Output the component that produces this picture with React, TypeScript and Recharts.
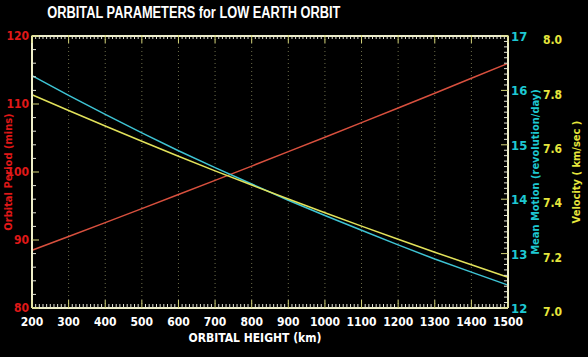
import React from "react";
import { Label, Line, LineChart, ReferenceLine, XAxis, YAxis } from "recharts";

// orbital height (km)
const heights = [200, 300, 400, 500, 600, 700, 800, 900, 1000, 1100, 1200, 1300, 1400, 1500];
// orbital period (mins)
const periods = [88.49, 90.52, 92.56, 94.61, 96.69, 98.77, 100.87, 102.99, 105.12, 107.26, 109.42, 111.59, 113.78, 115.98];
// mean motion (revolution/day)
const meanMotion = [16.27, 15.91, 15.56, 15.22, 14.89, 14.58, 14.28, 13.98, 13.7, 13.43, 13.16, 12.9, 12.66, 12.42];
// velocity (km/sec)
const velocity = [7.784, 7.726, 7.669, 7.613, 7.558, 7.504, 7.452, 7.401, 7.35, 7.301, 7.253, 7.205, 7.159, 7.113];

const gridHeights = [300, 400, 500, 600, 700, 800, 900, 1000, 1100, 1200, 1300, 1400];
const velocityTicks = [7.0, 7.2, 7.4, 7.6, 7.8, 8.0];

// minor tick positions for the frame
const xTicks = Array.from({ length: 131 }, (_, i) => 200 + i * 10);
const periodTicks = Array.from({ length: 21 }, (_, i) => 80 + i * 2);
const motionTicks = Array.from({ length: 51 }, (_, i) => (120 + i) / 10);

const data = heights.map((h, i) => ({
  height: h,
  period: periods[i],
  motion: meanMotion[i],
  velocity: velocity[i],
}));

const FONT = "'Liberation Sans Narrow', 'DejaVu Sans Condensed', 'Liberation Sans', sans-serif";
const FRAME = "#efefc8";
const MAJOR = "#d6d67a";
const MINOR = "#e4e4d4";
const RED = "#e01818";
const CYAN = "#1ec8d2";
const YELLOW = "#e6e63c";

document.body.style.margin = "0";
document.body.style.background = "#000";

const BottomTick = (props: any) => {
  const { x, y, payload } = props;
  const major = payload.value % 100 === 0;
  return (
    <g>
      <line x1={x} x2={x} y1={y} y2={y - (major ? 8 : 4)} stroke={major ? MAJOR : MINOR} strokeWidth={1} />
      {major && (
        <text x={x} y={y + 18} textAnchor="middle" fill="#fff" fontSize={12} fontWeight="bold" fontFamily={FONT}>
          {payload.value}
        </text>
      )}
    </g>
  );
};

const TopTick = (props: any) => {
  const { x, payload } = props;
  const major = payload.value % 100 === 0;
  return <line x1={x} x2={x} y1={35} y2={35 + (major ? 8 : 4)} stroke={major ? MAJOR : MINOR} strokeWidth={1} />;
};

const LeftTick = (props: any) => {
  const { x, y, payload } = props;
  const major = payload.value % 10 === 0;
  return (
    <g>
      <line x1={x} x2={x + (major ? 7 : 4)} y1={y} y2={y} stroke={major ? MAJOR : MINOR} strokeWidth={1} />
      {major && (
        <text x={x - 3} y={y + 4} textAnchor="end" fill={RED} fontSize={12} fontWeight="bold" fontFamily={FONT}>
          {payload.value}
        </text>
      )}
    </g>
  );
};

const RightTick = (props: any) => {
  const { x, y, payload } = props;
  const major = Math.abs(payload.value - Math.round(payload.value)) < 0.001;
  return (
    <g>
      <line x1={x} x2={x - (major ? 7 : 4)} y1={y} y2={y} stroke={major ? MAJOR : MINOR} strokeWidth={1} />
      {major && (
        <text x={x + 3} y={y + 5} textAnchor="start" fill={CYAN} fontSize={13} fontWeight="bold" fontFamily={FONT}>
          {Math.round(payload.value)}
        </text>
      )}
    </g>
  );
};

export default function App() {
  return (
    <div style={{ position: "relative", width: 588, height: 357, background: "#000" }}>
      <div
        style={{
          position: "absolute",
          left: 0,
          top: 4,
          width: 388,
          textAlign: "center",
          color: "#fff",
          fontFamily: "'Liberation Sans', Arial, sans-serif",
          fontWeight: "bold",
          fontSize: 16,
          lineHeight: "18px",
          transform: "scaleX(0.8)",
          transformOrigin: "193px 0",
          whiteSpace: "nowrap",
        }}
      >
        ORBITAL PARAMETERS for LOW EARTH ORBIT
      </div>
      <LineChart width={588} height={357} data={data} margin={{ top: 35, right: 0, bottom: 0, left: 0 }}>
        {gridHeights.map((h) => (
          <ReferenceLine key={h} x={h} yAxisId="period" stroke="#6c6c4a" strokeDasharray="1 3" />
        ))}
        <XAxis
          dataKey="height"
          type="number"
          domain={[200, 1500]}
          ticks={xTicks}
          interval={0}
          height={49}
          tickSize={0}
          tickMargin={0}
          tick={<BottomTick />}
          axisLine={{ stroke: FRAME, strokeWidth: 2 }}
          tickLine={false}
        >
          <Label
            value="ORBITAL HEIGHT (km)"
            position="center"
            dx={-15}
            dy={5}
            fill="#fff"
            fontSize={12}
            fontWeight="bold"
            fontFamily={FONT}
          />
        </XAxis>
        <XAxis
          xAxisId="top"
          orientation="top"
          dataKey="height"
          type="number"
          domain={[200, 1500]}
          ticks={xTicks}
          interval={0}
          height={1}
          tickSize={0}
          tickMargin={0}
          tick={<TopTick />}
          axisLine={{ stroke: FRAME, strokeWidth: 2 }}
          tickLine={false}
        />
        <YAxis
          yAxisId="period"
          type="number"
          domain={[80, 120]}
          ticks={periodTicks}
          interval={0}
          width={32}
          tickSize={0}
          tickMargin={0}
          tick={<LeftTick />}
          axisLine={{ stroke: FRAME, strokeWidth: 2 }}
          tickLine={false}
        >
          <Label
            value="Orbital Period (mins)"
            position="center"
            angle={-90}
            dx={-8}
            fill={RED}
            fontSize={11}
            fontWeight="bold"
            fontFamily={FONT}
          />
        </YAxis>
        <YAxis
          yAxisId="motion"
          orientation="right"
          type="number"
          domain={[12, 17]}
          ticks={motionTicks}
          interval={0}
          width={35}
          tickSize={0}
          tickMargin={0}
          tick={<RightTick />}
          axisLine={{ stroke: FRAME, strokeWidth: 2 }}
          tickLine={false}
        >
          <Label
            value="Mean Motion (revolution/day)"
            position="center"
            angle={-90}
            dx={10}
            fill={CYAN}
            fontSize={11}
            fontWeight="bold"
            fontFamily={FONT}
          />
        </YAxis>
        <YAxis
          yAxisId="velocity"
          orientation="right"
          type="number"
          domain={[7, 8]}
          ticks={velocityTicks}
          interval={0}
          width={45}
          tickSize={0}
          tickMargin={0}
          tickFormatter={(v: number) => v.toFixed(1)}
          tick={{ fill: YELLOW, fontSize: 12, fontWeight: "bold", fontFamily: FONT, dy: 4 }}
          axisLine={false}
          tickLine={false}
        >
          <Label
            value="Velocity ( km/sec )"
            position="center"
            angle={-90}
            dx={11}
            fill={YELLOW}
            fontSize={11}
            fontWeight="bold"
            fontFamily={FONT}
          />
        </YAxis>
        <Line yAxisId="period" dataKey="period" stroke="#d8503e" strokeWidth={1.5} dot={false} isAnimationActive={false} />
        <Line yAxisId="motion" dataKey="motion" stroke="#3ec4d4" strokeWidth={1.5} dot={false} isAnimationActive={false} />
        <Line yAxisId="velocity" dataKey="velocity" stroke="#e2e25a" strokeWidth={1.5} dot={false} isAnimationActive={false} />
      </LineChart>
    </div>
  );
}
